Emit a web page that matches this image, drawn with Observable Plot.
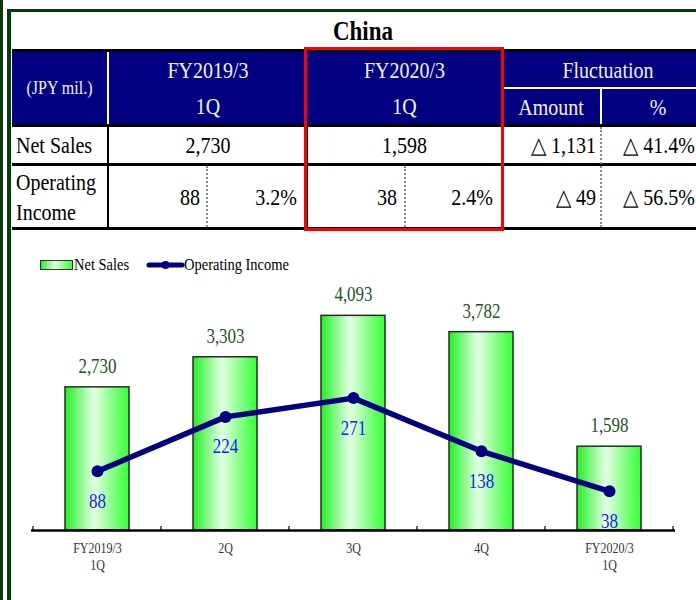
<!DOCTYPE html>
<html><head><meta charset="utf-8">
<script src="https://cdn.jsdelivr.net/npm/d3@7"></script>
<script src="https://cdn.jsdelivr.net/npm/@observablehq/plot@0.6"></script>
<style>
html,body{margin:0;padding:0;background:#fff;}
#page{position:relative;width:696px;height:600px;overflow:hidden;font-family:"Liberation Serif","Times New Roman",serif;}
.r{position:absolute;box-sizing:border-box;}
.t{position:absolute;box-sizing:border-box;display:flex;align-items:center;white-space:nowrap;line-height:1;}
.t span{display:inline-block;transform:scaleY(1.15);}
</style></head><body><div id="page"></div>
<script>
// ---- chart data ----
const categories = ["FY2019/3\n1Q", "2Q", "3Q", "4Q", "FY2020/3\n1Q"];
const netSales = [2730, 3303, 4093, 3782, 1598];
const operatingIncome = [88, 224, 271, 138, 38];
const seriesNames = ["Net Sales", "Operating Income"];

// ---- table data ----
const tableTitle = "China";
const unitLabel = "(JPY mil.)";
const periodHeads = [["FY2019/3", "1Q"], ["FY2020/3", "1Q"]];
const flucHead = "Fluctuation";
const flucSubHeads = ["Amount", "%"];
const rowLabels = ["Net Sales", "Operating<br>Income"];
const netSalesRow = ["2,730", "1,598", "△ 1,131", "△ 41.4%"];
const opIncomeRow = ["88", "3.2%", "38", "2.4%", "△ 49", "△ 56.5%"];

const page = document.getElementById("page");
function rect(x, y, w, h, css) {
  const d = document.createElement("div");
  d.className = "r";
  d.style.cssText = `left:${x}px;top:${y}px;width:${w}px;height:${h}px;${css}`;
  page.appendChild(d);
  return d;
}
function label(x, y, w, h, html, o = {}) {
  const d = document.createElement("div");
  d.className = "t";
  const jc = o.align === "left" ? "flex-start" : o.align === "right" ? "flex-end" : "center";
  d.style.cssText = `left:${x}px;top:${y}px;width:${w}px;height:${h}px;justify-content:${jc};` +
    `font-size:${o.size || 20}px;color:${o.color || "#000"};font-weight:${o.weight || "normal"};` +
    `padding-right:${o.pr || 0}px;padding-left:${o.pl || 0}px;`;
  const s = document.createElement("span");
  s.innerHTML = html;
  if (o.lh) s.style.lineHeight = o.lh;
  d.appendChild(s);
  page.appendChild(d);
}

// frame bars
const dg = "#0a3a0a";
rect(0, 0, 3, 600, `background:${dg}`);
rect(7, 9, 4, 591, `background:${dg}`);
rect(7, 9, 689, 3, `background:${dg}`);

// table
const hdr = "#f2f2ff";
label(12, 12, 702, 38, tableTitle, {size: 23, weight: "bold"});
rect(12, 49, 702, 3, "background:#000");
rect(12, 52, 702, 72, "background:#000080");
rect(107, 52, 2, 72, "background:#fff");
rect(502, 87, 212, 2, "background:#fff");
rect(600, 89, 2, 35, "background:#fff");
label(12, 52, 95, 72, unitLabel, {size: 16, color: hdr});
label(109, 52, 198, 36, periodHeads[0][0], {color: hdr});
label(109, 88, 198, 36, periodHeads[0][1], {color: hdr});
label(307, 52, 195, 36, periodHeads[1][0], {color: hdr});
label(307, 88, 195, 36, periodHeads[1][1], {color: hdr});
label(502, 52, 212, 35, flucHead, {color: hdr});
label(502, 89, 98, 35, flucSubHeads[0], {color: hdr});
label(602, 89, 112, 35, flucSubHeads[1], {color: hdr});
rect(12, 124, 702, 3, "background:#000");
label(16, 127, 92, 36, rowLabels[0], {align: "left"});
label(109, 127, 198, 36, netSalesRow[0]);
label(307, 127, 195, 36, netSalesRow[1]);
label(502, 127, 98, 36, netSalesRow[2], {align: "right", pr: 4});
label(602, 127, 112, 36, netSalesRow[3], {align: "right", pr: 19});
rect(12, 163, 702, 3, "background:#000");
label(16, 166, 92, 61, rowLabels[1], {align: "left", lh: "26px"});
label(109, 166, 98, 61, opIncomeRow[0], {align: "right", pr: 7});
label(208, 166, 99, 61, opIncomeRow[1], {align: "right", pr: 10});
label(307, 166, 98, 61, opIncomeRow[2], {align: "right", pr: 8});
label(406, 166, 96, 61, opIncomeRow[3], {align: "right", pr: 9});
label(502, 166, 98, 61, opIncomeRow[4], {align: "right", pr: 4});
label(602, 166, 112, 61, opIncomeRow[5], {align: "right", pr: 19});
rect(12, 227, 702, 3, "background:#000");
rect(107, 124, 2, 106, "background:#000");
rect(306, 124, 2, 106, "background:#000");
rect(501, 124, 2, 106, "background:#000");
rect(206, 166, 2, 61, "border-left:2px dotted #8a8a8a");
rect(404, 166, 2, 61, "border-left:2px dotted #8a8a8a");
rect(600, 127, 2, 100, "border-left:2px dotted #8a8a8a");
rect(304, 47, 200, 184, "border:3.5px solid #ff0000");

// legend
const leg = document.createElement("div");
leg.style.cssText = "position:absolute;left:0;top:252px;";
leg.innerHTML = `<svg width="320" height="26" style="font-family:'Liberation Serif','Times New Roman',serif">
<defs><linearGradient id="legGrad" x1="0" x2="1" y1="0" y2="0">
<stop offset="0" stop-color="#22ee22"/><stop offset="0.45" stop-color="#e4ffe4"/><stop offset="1" stop-color="#33ff33"/></linearGradient></defs>
<rect x="40.5" y="8.5" width="32" height="9" fill="url(#legGrad)" stroke="#333" stroke-width="1"/>
<text transform="translate(74,18) scale(1,1.2)" font-size="14.5" fill="#000">${seriesNames[0]}</text>
<line x1="149" y1="13" x2="182" y2="13" stroke="#000080" stroke-width="5" stroke-linecap="round"/>
<circle cx="165.5" cy="13" r="4" fill="#000080"/>
<text transform="translate(184,18) scale(1,1.2)" font-size="14.5" fill="#000">${seriesNames[1]}</text>
</svg>`;
page.appendChild(leg);

// chart
const data = categories.map((c, i) => ({cat: c, sales: netSales[i], op: operatingIncome[i]}));
const y2 = d3.scaleLinear().domain([-60, 530]).range([0, 4500]); // secondary axis for operating income
const chart = Plot.plot({
  width: 696, height: 320,
  marginTop: 14, marginBottom: 70, marginLeft: 31, marginRight: 21,
  x: {type: "band", domain: categories, paddingInner: 0.5, paddingOuter: 0.25, axis: null},
  y: {domain: [0, 4500], axis: null},
  style: {fontFamily: "'Liberation Serif','Times New Roman',serif", background: "transparent", overflow: "visible"},
  marks: [
    Plot.barY(data, {x: "cat", y: "sales", fill: "url(#barGrad)", stroke: "#2a2a2a", strokeWidth: 1.5}),
    Plot.ruleY([0], {stroke: "#000", strokeWidth: 2.5}),
    Plot.line(data, {x: "cat", y: d => y2(d.op), stroke: "#000080", strokeWidth: 5.5}),
    Plot.dot(data, {x: "cat", y: d => y2(d.op), r: 6, fill: "#000080"}),
    Plot.text(data, {x: "cat", y: "sales", text: d => d3.format(",")(d.sales), dy: -21, fontSize: 17, fill: "#245224"}),
    Plot.text(data, {x: "cat", y: d => y2(d.op), text: d => String(d.op), dy: 30, fontSize: 17, fill: "#1a1aff"}),
    Plot.text(data, {x: "cat", y: () => 0, text: "cat", lineAnchor: "top", dy: 10, fontSize: 12, lineHeight: 1.2, fill: "#333"})
  ]
});
const svg = d3.select(chart);
const grad = svg.insert("defs", ":first-child").append("linearGradient")
  .attr("id", "barGrad").attr("x1", 0).attr("x2", 1).attr("y1", 0).attr("y2", 0);
grad.append("stop").attr("offset", 0).attr("stop-color", "#22ee22");
grad.append("stop").attr("offset", 0.45).attr("stop-color", "#e4ffe4");
grad.append("stop").attr("offset", 1).attr("stop-color", "#33ff33");
// stretch label glyphs vertically like the reference
svg.selectAll("text").each(function () {
  const t = this.getAttribute("transform");
  if (t) this.setAttribute("transform", t + " scale(1,1.18)");
});
// small separator ticks between categories on the base line
const xs = chart.scale("x");
const gap = xs.step - xs.bandwidth;
const bounds = categories.map(c => xs.apply(c) - gap / 2)
  .concat([xs.apply(categories[categories.length - 1]) + xs.bandwidth + gap / 2]);
const yb = chart.scale("y").apply(0);
svg.append("g").selectAll("line").data(bounds).join("line")
  .attr("x1", d => d).attr("x2", d => d).attr("y1", yb - 4).attr("y2", yb)
  .attr("stroke", "#000").attr("stroke-width", 1.2);
const wrap = document.createElement("div");
wrap.style.cssText = "position:absolute;left:0;top:280px;";
wrap.appendChild(chart);
page.appendChild(wrap);
</script>
</body></html>
